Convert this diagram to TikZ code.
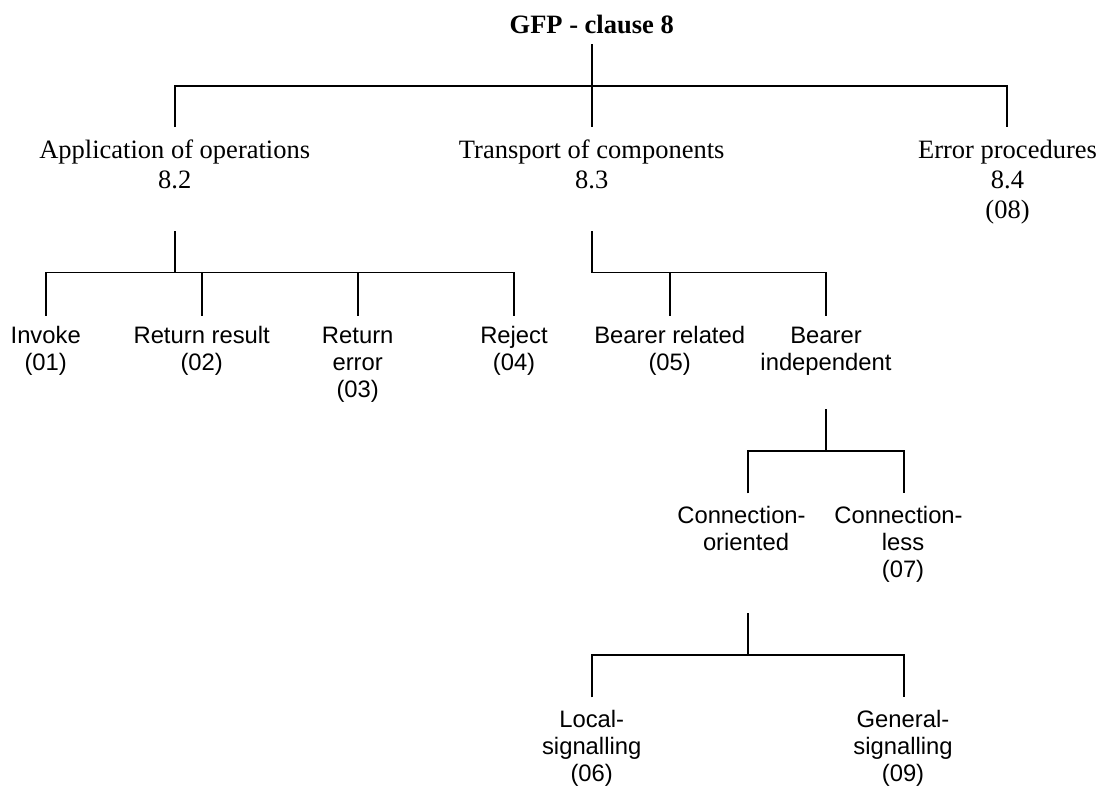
\documentclass[tikz,border=0pt]{standalone}
\usepackage{fontspec}
\setmainfont{Liberation Serif}
\setsansfont{Liberation Sans}
\newcommand{\topstrut}{\rule{0pt}{20pt}}
\begin{document}
\begin{tikzpicture}[x=1pt,y=-1pt,
  serif/.style={font=\fontsize{26.5}{30}\selectfont, align=center, inner sep=0pt, anchor=north},
  sans/.style={font=\sffamily\fontsize{23.8}{27}\selectfont, align=center, inner sep=0pt, anchor=north},
  conn/.style={line width=1.6pt, line join=miter}]
\fill[white] (0,0) rectangle (1099,795);
\useasboundingbox (0,0) rectangle (1099,795);

% nodes
\node[serif] (title) at (591.7,13) {\topstrut\textbf{GFP - clause 8}};
\node[serif] (app) at (174.7,138) {\topstrut Application of operations\\8.2};
\node[serif] (trans) at (591.7,138) {\topstrut Transport of components\\8.3};
\node[serif] (err) at (1007.5,138) {\topstrut Error procedures\\8.4\\(08)};

\node[sans] (inv) at (45.7,323) {\topstrut Invoke\\(01)};
\node[sans] (rr) at (201.7,323) {\topstrut Return result\\(02)};
\node[sans] (re) at (357.7,323) {\topstrut Return\\error\\(03)};
\node[sans] (rej) at (514,323) {\topstrut Reject\\(04)};
\node[sans] (br) at (669.7,323) {\topstrut Bearer related\\(05)};
\node[sans] (bi) at (826,323) {\topstrut Bearer\\independent};

\node[sans] (co) at (746,503) {\topstrut Connection-\rule{9pt}{0pt}\\oriented};
\node[sans] (cl) at (903,503) {\topstrut Connection-\rule{9pt}{0pt}\\less\\(07)};

\node[sans] (ls) at (591.7,707) {\topstrut Local-\\signalling\\(06)};
\node[sans] (gs) at (903,707) {\topstrut General-\\signalling\\(09)};

% connector end points
\coordinate (title-out) at (591.7,44);
\coordinate (j0) at (591.7,86);
\coordinate (app-in) at (174.7,127);
\coordinate (trans-in) at (591.7,127);
\coordinate (err-in) at (1006.7,127);

\coordinate (app-out) at (174.7,231);
\coordinate (j1) at (174.7,272.3);
\coordinate (inv-in) at (45.7,315.7);
\coordinate (rr-in) at (201.7,315.7);
\coordinate (re-in) at (357.7,315.7);
\coordinate (rej-in) at (514,315.7);

\coordinate (trans-out) at (591.7,231);
\coordinate (j2) at (591.7,272.3);
\coordinate (br-in) at (669.7,315.7);
\coordinate (bi-in) at (826,315.7);

\coordinate (bi-out) at (826,409);
\coordinate (j3) at (826,450.7);
\coordinate (co-in) at (747.7,493.3);
\coordinate (cl-in) at (904,493.3);

\coordinate (co-out) at (747.7,613);
\coordinate (j4) at (747.7,655);
\coordinate (ls-in) at (591.7,697.3);
\coordinate (gs-in) at (904,697.3);

% connectors
\draw[conn] (title-out) -- (trans-in);
\draw[conn] (app-in) |- (j0) -| (err-in);

\draw[conn] (app-out) -- (j1);
\draw[conn] (inv-in) |- (j1) -| (rej-in);
\draw[conn] (rr-in) -- (rr-in |- j1);
\draw[conn] (re-in) -- (re-in |- j1);

\draw[conn] (trans-out) -- (j2) -| (bi-in);
\draw[conn] (br-in) -- (br-in |- j2);

\draw[conn] (bi-out) -- (j3);
\draw[conn] (co-in) |- (j3) -| (cl-in);

\draw[conn] (co-out) -- (j4);
\draw[conn] (ls-in) |- (j4) -| (gs-in);
\end{tikzpicture}
\end{document}
